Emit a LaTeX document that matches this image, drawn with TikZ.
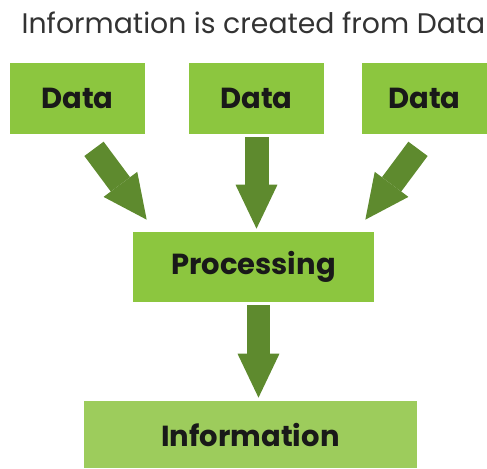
\documentclass[tikz,border=0pt]{standalone}
\usepackage{fontspec}
\setmainfont{Poppins}
\usetikzlibrary{arrows.meta}
\definecolor{boxgreen}{HTML}{8CC63F}
\definecolor{infogreen}{HTML}{9DCC5C}
\definecolor{arrowgreen}{HTML}{5E8A2E}
\tikzset{
  box/.style={fill=boxgreen, inner sep=0pt, text=black!90, font=\bfseries\fontsize{16.5}{20}\selectfont},
  fatarrow/.style={draw=arrowgreen, line width=0.48cm, -{Triangle[length=0.88cm, width=0.84cm, line width=0pt]}},
}

\begin{document}
\begin{tikzpicture}[x=0.02cm, y=-0.02cm]
		%%%%% frame %%%%%
		\useasboundingbox (0, 0) rectangle (487, 468);
		
		\node[text=black!80, font=\fontsize{16.1}{19}\selectfont] (title) at (253.5, 23) {Information is created from Data};
		
		%%%%% boxes %%%%%
		\node[box, minimum width=2.7cm, minimum height=1.42cm] (d1) at (77.5, 98.5) {Data};
		\node[box, minimum width=2.7cm, minimum height=1.42cm] (d2) at (256.5, 98.5) {Data};
		\node[box, minimum width=2.5cm, minimum height=1.42cm] (d3) at (424.5, 98.5) {Data};
		
		\node[box, minimum width=4.82cm, minimum height=1.4cm] (proc) at (253.5, 267) {Processing};
		\node[box, fill=infogreen, minimum width=6.66cm, minimum height=1.34cm] (info) at (250.5, 434.5) {Information};
		
		%%%%% arrows %%%%%
		\draw[fatarrow] ([shift={(16.5, 14.5)}]d1.south) -- ([shift={(14, -12)}]proc.north west);
		\draw[fatarrow, shorten <=0.06cm, shorten >=0.06cm] (d2.south) -- (d2.south |- proc.north);
		\draw[fatarrow] ([shift={(-6.5, 14.5)}]d3.south) -- ([shift={(-9, -12)}]proc.north east);
		
		\draw[fatarrow, shorten <=0.06cm, shorten >=0.06cm] ([xshift=0.1cm]proc.south) -- ([xshift=0.1cm]proc.south |- info.north);
		
\end{tikzpicture}
\end{document}
